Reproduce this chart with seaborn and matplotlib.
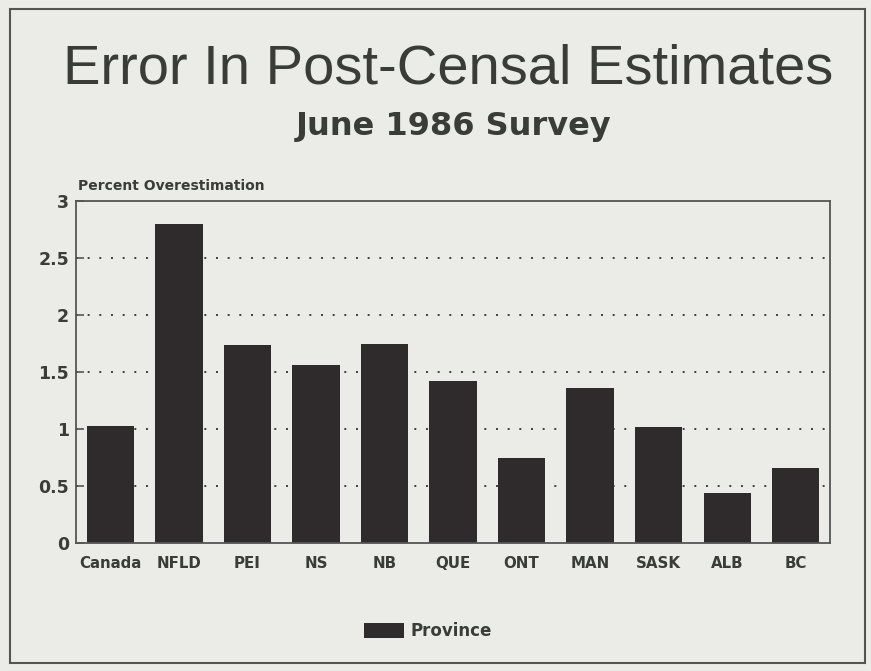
import matplotlib
matplotlib.use("Agg")
import matplotlib.pyplot as plt
import seaborn as sns
import pandas as pd
from matplotlib.patches import Rectangle

regions = ["Canada", "NFLD", "PEI", "NS", "NB", "QUE", "ONT", "MAN", "SASK", "ALB", "BC"]
overestimation = [1.03, 2.80, 1.74, 1.56, 1.75, 1.42, 0.75, 1.36, 1.02, 0.44, 0.66]
series_name = "Province"
y_ticks = [0, 0.5, 1, 1.5, 2, 2.5, 3]
y_tick_labels = ["0", "0.5", "1", "1.5", "2", "2.5", "3"]

df = pd.DataFrame({"region": regions, "value": overestimation, "series": [series_name] * len(regions)})

sns.set_theme(style="white")
plt.rcParams["font.family"] = ["Liberation Sans", "DejaVu Sans"]

bg = "#ebece8"
bar_color = "#2f2b2c"
text_color = "#3a3c38"
wide_bold = ["DejaVu Sans"]

fig = plt.figure(figsize=(8.71, 6.71), dpi=100, facecolor=bg)
ax = fig.add_axes([0.0873, 0.1907, 0.8657, 0.5097])
ax.set_facecolor(bg)

sns.barplot(data=df, x="region", y="value", hue="series", palette=[bar_color],
            width=0.69, saturation=1, ax=ax, legend=True, linewidth=0)

ax.set_xlim(-0.5, len(regions) - 0.5)
ax.set_ylim(0, 3)
ax.set_yticks(y_ticks)
ax.set_yticklabels(y_tick_labels)
for y in y_ticks[1:-1]:
    ax.axhline(y, color="#3f3f3f", linestyle=(0, (1, 5)), linewidth=1.4, zorder=0)
ax.set_axisbelow(True)

ax.set_xlabel("")
ax.set_ylabel("")
for s in ax.spines.values():
    s.set_color("#555555")
    s.set_linewidth(1.3)
    s.set_visible(True)

ax.tick_params(axis="y", direction="in", length=6, width=1.2, color="#555555",
               labelcolor=text_color, pad=5, left=True)
ax.tick_params(axis="x", length=0, labelcolor=text_color, pad=9)
for lbl in ax.get_yticklabels():
    lbl.set_fontweight("bold")
    lbl.set_family(wide_bold)
    lbl.set_fontsize(12.5)
for lbl in ax.get_xticklabels():
    lbl.set_fontweight("bold")
    lbl.set_family(wide_bold)
    lbl.set_fontsize(10.8)

# legend at bottom
leg = ax.legend(loc="center", bbox_to_anchor=(428 / 871, 1 - 631 / 671),
                bbox_transform=fig.transFigure, frameon=False,
                prop={"family": wide_bold, "weight": "bold", "size": 12},
                handlelength=2.4, handleheight=1.0, handletextpad=0.4)
for t in leg.get_texts():
    t.set_color(text_color)

fig.text(448 / 871, 1 - 70 / 671, "Error In Post-Censal Estimates", ha="center", va="center",
         fontsize=40.4, color=text_color)
fig.text(454 / 871, 1 - 126 / 671, "June 1986 Survey", ha="center", va="center",
         fontsize=23, fontweight="bold", family=wide_bold, color=text_color)
fig.text(78 / 871, 1 - 186 / 671, "Percent Overestimation", ha="left", va="center",
         fontsize=10, fontweight="bold", family=wide_bold, color=text_color)

fig.patches.append(Rectangle((10 / 871, 8 / 671), 855 / 871, 654 / 671,
                             transform=fig.transFigure, fill=False,
                             edgecolor="#555555", linewidth=1.5))

fig.savefig("out.png", dpi=100, facecolor=bg)
